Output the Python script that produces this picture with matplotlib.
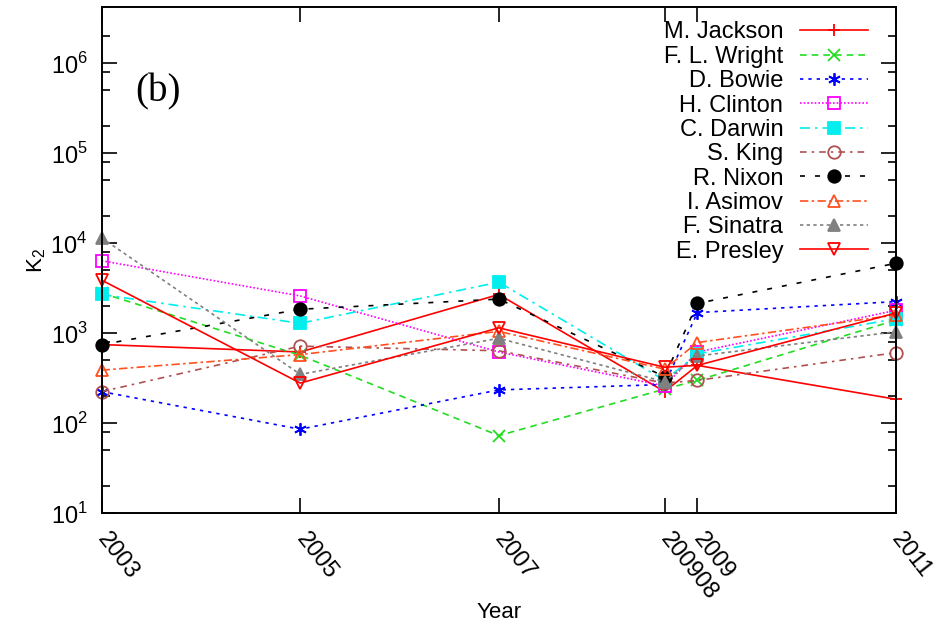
"""
plot.py
K2 over the years for ten people, log scale, gnuplot-like look.
"""

import math
import matplotlib
matplotlib.use("Agg")
import matplotlib.pyplot as plt
from matplotlib.ticker import FixedLocator, LogLocator, NullFormatter, FuncFormatter

plt.rcParams['font.family'] = ['Liberation Sans', 'DejaVu Sans']
plt.rcParams['mathtext.fontset'] = 'custom'
plt.rcParams['mathtext.rm'] = 'Liberation Sans'

# --- data ---
years = [2003, 2005, 2007, 2008.67, 2009, 2011]
year_labels = ["2003", "2005", "2007", "200908", "2009", "2011"]

names = ["M. Jackson", "F. L. Wright", "D. Bowie", "H. Clinton", "C. Darwin",
         "S. King", "R. Nixon", "I. Asimov", "F. Sinatra", "E. Presley"]

jackson = [750, 620, 2700, 225, 440, 185]
wright = [2800, 570, 73, 240, 300, 1400]
bowie = [225, 86, 235, 270, 1700, 2250]
clinton = [6400, 2600, 620, 260, 620, 1800]
darwin = [2700, 1290, 3700, 300, 590, 1450]
king = [225, 720, 640, 280, 300, 610]
nixon = [750, 1850, 2400, 330, 2150, 6000]
asimov = [390, 580, 1050, 400, 790, 1600]
sinatra = [11500, 350, 880, 290, 560, 1040]
presley = [3900, 280, 1150, 420, 440, 1680]

series = [jackson, wright, bowie, clinton, darwin, king, nixon, asimov, sinatra, presley]

# colour, linestyle, marker, filled?
styles = [
    ("#ff0000", "-", "+", True),
    ("#22dd22", (0, (4, 3)), "x", True),
    ("#0000ff", (0, (2, 3)), (6, 2, 0), True),
    ("#ff00ff", (0, (1, 1.2)), "s", False),
    ("#00eeee", (0, (6, 3, 1.5, 3)), "s", True),
    ("#b05050", (0, (4, 3, 1.5, 3)), "o", False),
    ("#000000", (0, (3, 6)), "o", True),
    ("#ff5020", (0, (5, 2, 1.5, 2)), "^", False),
    ("#808080", (0, (2, 2)), "^", True),
    ("#ff0000", "-", "v", False),
]

fig = plt.figure(figsize=(9.43, 6.25), dpi=100)
ax = fig.add_axes([0.1078, 0.1787, 0.8423, 0.8096])

for name, vals, (col, ls, mk, filled) in zip(names, series, styles):
    ax.plot(years, vals, color=col, linestyle=ls, linewidth=1.2,
            marker=mk, markersize=9, markeredgewidth=1.3,
            markerfacecolor=col if filled else 'none',
            markeredgecolor=col, label=name, clip_on=False)

ax.set_yscale('log')
ax.set_ylim(10, 4.19e6)
ax.set_xlim(2003, 2011)

ax.xaxis.set_major_locator(FixedLocator(years))
ax.set_xticklabels(year_labels, rotation=-52, ha='left', va='center',
                   rotation_mode='anchor', fontsize=17)

ax.yaxis.set_major_locator(LogLocator(base=10, numticks=10))
ax.yaxis.set_minor_locator(LogLocator(base=10, subs=(2, 5, 8), numticks=10))
ax.yaxis.set_minor_formatter(NullFormatter())
ax.yaxis.set_major_formatter(FuncFormatter(lambda v, p: r"$10^{%d}$" % round(math.log10(v))))
for t in ax.get_yticklabels():
    t.set_fontsize(17)

ax.tick_params(which='both', direction='in', top=True, right=True, width=1.2)
ax.tick_params(which='major', length=11)
ax.tick_params(which='minor', length=6)
ax.tick_params(axis='y', pad=10)
ax.tick_params(axis='x', pad=16)
for sp in ax.spines.values():
    sp.set_linewidth(1.4)

ax.set_xlabel("Year", fontsize=16, labelpad=-2)
ax.set_ylabel(r"K$_2$", fontsize=16, labelpad=2)

ax.text(0.042, 0.814, "(b)", transform=ax.transAxes, fontsize=28,
        family=['Liberation Serif', 'DejaVu Serif'])

leg = ax.legend(loc='upper right', bbox_to_anchor=(0.965, 0.972), frameon=False,
                markerfirst=False, fontsize=17, borderpad=0, borderaxespad=0,
                handlelength=2.9, handletextpad=0.7, labelspacing=0.1)
# right-justify the entries like gnuplot does
for col in leg._legend_handle_box.get_children():
    col.align = 'right'

fig.savefig("out.png", dpi=100)
